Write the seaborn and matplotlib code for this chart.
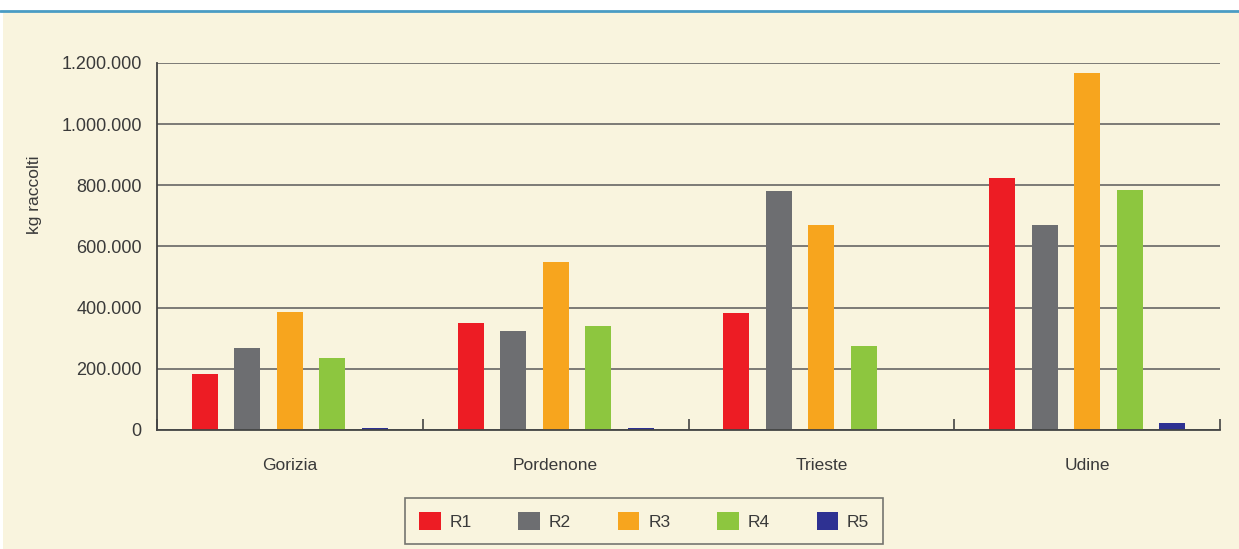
import pandas as pd
import numpy as np
import matplotlib.pyplot as plt
import matplotlib.ticker as mticker
from matplotlib.lines import Line2D
from matplotlib.patches import Patch
import seaborn as sns

province = ['Gorizia', 'Pordenone', 'Trieste', 'Udine']
serie = ['R1', 'R2', 'R3', 'R4', 'R5']
r1 = [183000, 350000, 382000, 823000]
r2 = [268000, 324000, 781000, 670000]
r3 = [386000, 549000, 670000, 1167000]
r4 = [235000, 340000, 275000, 784000]
r5 = [5000, 8000, 1500, 23000]

colori = ['#ED1C24', '#6D6E71', '#F7A51E', '#8DC63F', '#2E3192']
bg = '#F9F4DE'
txt = '#3a3a3a'

df = pd.DataFrame({'provincia': province * 5,
                   'serie': np.repeat(serie, 4),
                   'kg': r1 + r2 + r3 + r4 + r5})

sns.set_style("ticks")
plt.rcParams['font.family'] = ['Liberation Sans', 'DejaVu Sans']

fig = plt.figure(figsize=(12.39, 5.49), dpi=100)
fig.patch.set_facecolor('white')
# cream panel + blue rule at top
fig.add_artist(plt.Rectangle((3 / 1239, 0), 1 - 3 / 1239, 1 - 12 / 549,
                             transform=fig.transFigure, facecolor=bg, edgecolor='none', zorder=-10))
fig.add_artist(Line2D([0, 1], [1 - 11 / 549, 1 - 11 / 549], transform=fig.transFigure,
                      color='#4A9CC4', lw=2))

ax = fig.add_axes([157 / 1239, 1 - 430 / 549, (1220 - 157) / 1239, (430 - 63) / 549])
ax.set_facecolor(bg)

sns.barplot(data=df, x='provincia', y='kg', hue='serie', palette=colori,
            width=0.8, gap=0.39, ax=ax, legend=False, saturation=1, edgecolor='none')

ax.set_ylim(0, 1200000)
ax.set_xlim(-0.5, 3.5)
ax.set_yticks(np.arange(0, 1200001, 200000))
ax.yaxis.set_major_formatter(mticker.FuncFormatter(lambda v, p: f'{int(v):,}'.replace(',', '.')))
ax.grid(axis='y', color='#5a5a5a', lw=1.1)
ax.set_axisbelow(True)

ax.tick_params(axis='y', length=0, pad=11, labelsize=13, labelcolor=txt)
ax.tick_params(axis='x', which='major', length=0, pad=20, labelsize=12.5, labelcolor=txt)
ax.set_xticks(np.arange(-0.5, 3.6, 1), minor=True)
ax.tick_params(axis='x', which='minor', direction='in', length=8, width=1.2, color='#444444')

ax.set_xlabel('')
ax.set_ylabel('kg raccolti', fontsize=12.5, color=txt, labelpad=14, y=0.64)

sns.despine(ax=ax, top=True, right=True)
for s in ['left', 'bottom']:
    ax.spines[s].set_color('#444444')
    ax.spines[s].set_linewidth(1.3)

handles = [Patch(facecolor=c, edgecolor='none') for c in colori]
leg = fig.legend(handles, serie, loc='center', bbox_to_anchor=(644 / 1239, 1 - 521 / 549),
                 ncol=5, frameon=True, fontsize=12.5, handlelength=1.25, handleheight=1.25,
                 handletextpad=0.5, columnspacing=2.7, borderpad=0.8, fancybox=False)
leg.get_frame().set_facecolor(bg)
leg.get_frame().set_edgecolor('#555555')
leg.get_frame().set_linewidth(1.2)
for t in leg.get_texts():
    t.set_color(txt)

plt.savefig('out.png', dpi=100, facecolor=fig.get_facecolor())
